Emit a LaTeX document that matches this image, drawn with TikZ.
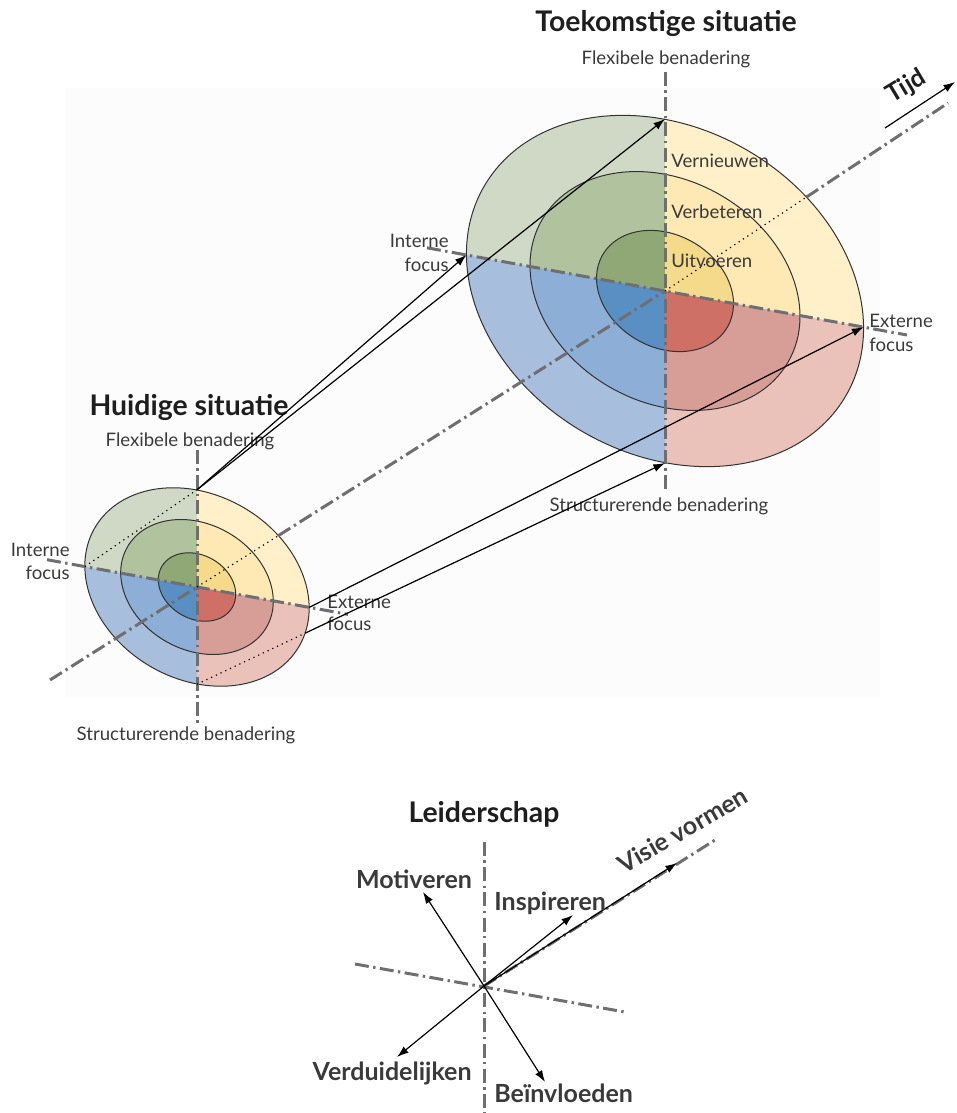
\documentclass[tikz,border=0pt]{standalone}
\usepackage{fontspec}
\setmainfont{Lato}
\usetikzlibrary{arrows.meta}

% quadrant colours: A = outer ring, B = middle ring, C = core
\definecolor{grA}{HTML}{CFD9C5}
\definecolor{grB}{HTML}{B1C29E}
\definecolor{grC}{HTML}{8FA876}
\definecolor{ylA}{HTML}{FFF0C9}
\definecolor{ylB}{HTML}{FEE8B4}
\definecolor{ylC}{HTML}{F6DA8C}
\definecolor{blA}{HTML}{A7BEDD}
\definecolor{blB}{HTML}{8DAED6}
\definecolor{blC}{HTML}{5A8FC4}
\definecolor{rdA}{HTML}{EAC2B9}
\definecolor{rdB}{HTML}{D69E97}
\definecolor{rdC}{HTML}{CE7065}
\definecolor{axisgray}{HTML}{6E6F71}
\definecolor{ringdark}{HTML}{333333}
\definecolor{labelgray}{HTML}{3A3A3A}
\definecolor{titleblack}{HTML}{1E1E1E}
\definecolor{bgtint}{HTML}{FDFCFC}

\tikzset{
  axisline/.style={draw=axisgray, line width=1.5pt,
    dash pattern=on 7pt off 2.2pt on 1.2pt off 2.2pt},
  ringline/.style={draw=ringdark, line width=0.5pt},
  hiddenline/.style={draw=black, dotted, line width=0.6pt},
  shiftarrow/.style={draw=black, line width=0.6pt, -{Latex[length=5.8pt,width=4pt]}},
  lbl/.style={text=labelgray, font=\fontsize{9.3}{11}\selectfont, inner sep=0pt},
  ttl/.style={text=titleblack, font=\bfseries\fontsize{14.2}{17}\selectfont, inner sep=0pt},
  leadlbl/.style={text=labelgray, font=\bfseries\fontsize{12.5}{15}\selectfont, inner sep=0pt},
}

% three concentric tilted rings, split in four coloured quadrants
% #1,#2 = centre, #3 = size factor
\newcommand\ringset[3]{%
  \begin{scope}[shift={(#1,#2)}, scale=#3]
    \foreach \r/\cUL/\cUR/\cLL/\cLR in {1/grA/ylA/blA/rdA, 0.68/grB/ylB/blB/rdB, 0.345/grC/ylC/blC/rdC}{
      \begin{scope}
        \clip (0,0) -- (-300,-54.5) -- (-300,-300) -- (0,-300) -- cycle;
        \fill[fill=\cUL, rotate=-30, scale=\r] (0,0) ellipse [x radius=209, y radius=163];
      \end{scope}
      \begin{scope}
        \clip (0,0) -- (0,-300) -- (300,-300) -- (300,54.5) -- cycle;
        \fill[fill=\cUR, rotate=-30, scale=\r] (0,0) ellipse [x radius=209, y radius=163];
      \end{scope}
      \begin{scope}
        \clip (0,0) -- (300,54.5) -- (300,300) -- (0,300) -- cycle;
        \fill[fill=\cLR, rotate=-30, scale=\r] (0,0) ellipse [x radius=209, y radius=163];
      \end{scope}
      \begin{scope}
        \clip (0,0) -- (0,300) -- (-300,300) -- (-300,-54.5) -- cycle;
        \fill[fill=\cLL, rotate=-30, scale=\r] (0,0) ellipse [x radius=209, y radius=163];
      \end{scope}
    }
    \foreach \r in {1,0.68,0.345}
      \draw[ringline, rotate=-30, scale=\r] (0,0) ellipse [x radius=209, y radius=163];
  \end{scope}}

\begin{document}
\begin{tikzpicture}[x=0.5pt, y=-0.5pt]
\useasboundingbox (0,0) rectangle (957,1113);
\fill[bgtint] (65,88) rectangle (880,697);

% ---------- key points ----------
\coordinate (SC) at (197,587);
\coordinate (ST) at (197,489.8);
\coordinate (SB) at (197,684.2);
\coordinate (SL) at (84.8,566.6);
\coordinate (SR) at (309.2,607.4);
\coordinate (SQ) at (305.5,633);
\coordinate (SE) at (278.4,535.6);
\coordinate (BC) at (665,291);
\coordinate (BT) at (665,119);
\coordinate (BB) at (665,463);
\coordinate (BL) at (466.5,254.9);
\coordinate (BR) at (863.5,327.1);
\coordinate (BE) at (806.4,197.1);

\coordinate (SVt) at (197,450);
\coordinate (SVb) at (197,725);
\coordinate (SFl) at (47,559.7);
\coordinate (SFr) at (348,614.4);
\coordinate (BVt) at (665,72);
\coordinate (BVb) at (665,490);
\coordinate (BFl) at (427,247.8);
\coordinate (BFr) at (907,335);
\coordinate (TA0) at (50,680);
\coordinate (TA1) at (948,103);
\coordinate (TK0) at (885,128);
\coordinate (TK1) at (955,82);

% ---------- rings ----------
\ringset{197}{587}{0.565}
\ringset{665}{291}{1}

% ---------- axes ----------
\draw[axisline] (SVt) -- (SVb);
\draw[axisline] (SFl) -- (SFr);
\draw[axisline] (BVt) -- (BVb);
\draw[axisline] (BFl) -- (BFr);
\draw[axisline] (TA0) -- (SC);
\draw[axisline] (SE) -- (BC);
\draw[axisline] (BE) -- (TA1);
\draw[hiddenline] (SC) -- (SE);
\draw[hiddenline] (BC) -- (BE);

% ---------- hidden parts of the growth arrows ----------
\draw[hiddenline] (SL) -- (ST);
\draw[hiddenline] (SB) -- (SQ);

% ---------- labels ----------
\node[ttl, anchor=base] (tFut) at (666,32) {Toekomstige situatie};
\node[lbl, anchor=base] (flexB) at (666,65) {Flexibele benadering};
\node[lbl, anchor=base west] (vern) at (671,168) {Vernieuwen};
\node[lbl, anchor=base west] (verb) at (671,218) {Verbeteren};
\node[lbl, anchor=base west] (uitv) at (671,267) {Uitvoeren};
\node[lbl, anchor=base east] (intB1) at (449,247) {Interne};
\node[lbl, anchor=base east] (intB2) at (449,271) {focus};
\node[lbl, anchor=base west] (extB1) at (869,327) {Externe};
\node[lbl, anchor=base west] (extB2) at (869,351) {focus};
\node[lbl, anchor=base] (strB) at (659,511) {Structurerende benadering};

\node[ttl, anchor=base] (tCur) at (189,415) {Huidige situatie};
\node[lbl, anchor=base] (flexS) at (190,446) {Flexibele benadering};
\node[lbl, anchor=base east] (intS1) at (70,556) {Interne};
\node[lbl, anchor=base east] (intS2) at (70,579) {focus};
\node[lbl, anchor=base west] (extS1) at (327,608) {Externe};
\node[lbl, anchor=base west] (extS2) at (327,630) {focus};
\node[lbl, anchor=base] (strS) at (186,740) {Structurerende benadering};

\node[text=titleblack, font=\bfseries\fontsize{12.5}{15}\selectfont, inner sep=0pt,
      anchor=base, rotate=31] (tijd) at (910,93) {Tijd};

% ---------- growth arrows ----------
\draw[shiftarrow] (ST) -- (BT);
\draw[shiftarrow] (ST) -- (BL);
\draw[shiftarrow] (SR) -- (BR);
\draw[shiftarrow] (SQ) -- (BB);
\draw[shiftarrow] (TK0) -- (TK1);

% ---------- leadership cross ----------
\coordinate (LC) at (484,986);
\coordinate (LVt) at (484,842);
\coordinate (LVb) at (484,1113);
\coordinate (LFl) at (355,964);
\coordinate (LFr) at (625,1012);
\coordinate (LVis) at (715,840);
\coordinate (tipMot) at (423,892);
\coordinate (tipInsp) at (573,915);
\coordinate (tipVis) at (677,863);
\coordinate (tipVerd) at (397,1057);
\coordinate (tipBein) at (545,1082);

\node[ttl, anchor=base] (lead) at (484,822) {Leiderschap};

\draw[axisline] (LVt) -- (LVb);
\draw[axisline] (LFl) -- (LFr);
\draw[axisline] (LC) -- (LVis);

\draw[shiftarrow] (LC) -- (tipMot);
\draw[shiftarrow] (LC) -- (tipInsp);
\draw[shiftarrow] (LC) -- (tipVis);
\draw[shiftarrow] (LC) -- (tipVerd);
\draw[shiftarrow] (LC) -- (tipBein);

\node[leadlbl, anchor=base] (motL) at (414,888) {Motiveren};
\node[leadlbl, anchor=base west] (inspL) at (494,910) {Inspireren};
\node[leadlbl, anchor=base east] (verdL) at (472,1080) {Verduidelijken};
\node[leadlbl, anchor=base west] (beinL) at (494,1102) {Beïnvloeden};
\node[leadlbl, anchor=base, rotate=30] (visL) at (687,838) {Visie vormen};
\end{tikzpicture}
\end{document}
